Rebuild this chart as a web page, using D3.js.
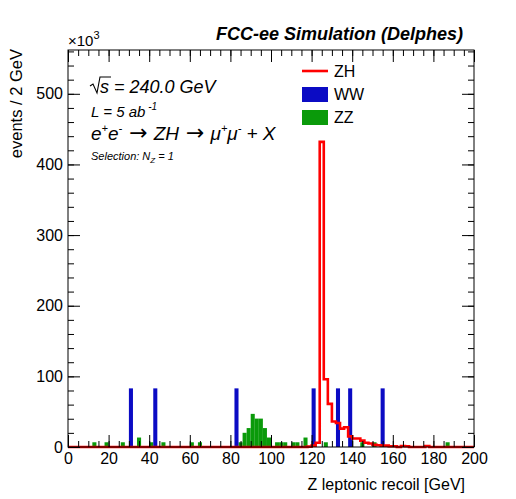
<!DOCTYPE html>
<html><head><meta charset="utf-8">
<script src="https://cdn.jsdelivr.net/npm/d3@7"></script>
<style>
body{margin:0;background:#fff}
text{font-family:"Liberation Sans",Arial,Helvetica,sans-serif;fill:#000}
</style>
</head><body>
<svg id="c" width="516" height="499"></svg>
<script>
// ---------- data (values in units of 10^3 events / 2 GeV) ----------
const binWidth = 2;
const xDomain = [0, 200];
const yDomain = [0, 562];
const xMajorTicks = [0, 20, 40, 60, 80, 100, 120, 140, 160, 180, 200];
const yMajorTicks = [0, 100, 200, 300, 400, 500];

// ZZ background (green), bin low edges and contents
const zzBins   = [12, 18, 26, 34, 40, 46, 60, 64, 84, 86, 88, 90, 92, 94, 96, 98, 102, 104, 106, 110, 112, 116, 126, 144, 150, 186];
const zzValues = [6.7, 6.7, 6.7, 13.4, 6.7, 6.7, 6.7, 6.7, 6.7, 20.1, 26.8, 46.9, 40.2, 40.2, 26.8, 13.4, 6.7, 6.7, 6.7, 6.7, 6.7, 13.4, 6.7, 6.7, 6.7, 6.7];

// WW background (blue)
const wwBins   = [30, 42, 82, 120, 132, 138, 154];
const wwValues = [83, 83, 83, 83, 83, 83, 83];

// ZH signal (red line)
const zhBins   = [118, 120, 122, 124, 126, 128, 130, 132, 134, 136, 138, 140, 142, 144, 146, 148, 150, 152, 154, 156, 158, 160, 164, 166, 176];
const zhValues = [0.5, 2, 6, 432, 96, 61, 36, 34, 26, 28, 15, 12, 12, 9, 6, 5, 3, 2.5, 2, 2, 1, 1, 1.5, 1, 1.5];

// ---------- drawing ----------
const svg = d3.select("#c");
const L = 68, R = 474, T = 50, B = 447;
const x = d3.scaleLinear().domain(xDomain).range([L, R]);
const y = d3.scaleLinear().domain(yDomain).range([B, T]);

const green = "#0a9a0a", blue = "#0b0bc4", red = "#ff0000";

// green ZZ bars
svg.append("g").selectAll("rect").data(zzBins.map((b,i)=>({lo:b, v:zzValues[i]})))
  .join("rect")
  .attr("x", d => x(d.lo)).attr("width", d => x(d.lo+binWidth)-x(d.lo))
  .attr("y", d => y(d.v)).attr("height", d => y(0)-y(d.v))
  .attr("fill", green);

// blue WW bars
svg.append("g").selectAll("rect").data(wwBins.map((b,i)=>({lo:b, v:wwValues[i]})))
  .join("rect")
  .attr("x", d => x(d.lo)).attr("width", d => x(d.lo+binWidth)-x(d.lo))
  .attr("y", d => y(d.v)).attr("height", d => y(0)-y(d.v))
  .attr("fill", blue);

// red ZH step outline
const nBins = (xDomain[1]-xDomain[0])/binWidth;
const zhFull = d3.range(nBins).map(i => {
  const lo = xDomain[0] + i*binWidth;
  const k = zhBins.indexOf(lo);
  return {lo, v: k >= 0 ? zhValues[k] : 0};
});
const pts = zhFull.map(d => [d.lo, d.v]).concat([[xDomain[1], zhFull[zhFull.length-1].v]]);
svg.append("path")
  .attr("d", d3.line().x(d => x(d[0])).y(d => y(d[1])).curve(d3.curveStepAfter)(pts))
  .attr("fill", "none").attr("stroke", red).attr("stroke-width", 2.6);

// axes (ticks inward, ROOT style)
const xMinor = d3.range(xDomain[0], xDomain[1]+0.1, 5);
const yMinor = d3.range(0, yDomain[1], 20);
function styleAxis(g){ g.select(".domain").remove(); g.selectAll("line").attr("stroke","#000"); }

svg.append("g").attr("transform",`translate(0,${B})`)
  .call(d3.axisBottom(x).tickValues(xMinor).tickSize(-6).tickFormat("")).call(styleAxis);
const xa = svg.append("g").attr("transform",`translate(0,${B})`)
  .call(d3.axisBottom(x).tickValues(xMajorTicks).tickSize(-12).tickPadding(6).tickFormat(d3.format("d")))
  .call(styleAxis);
xa.selectAll("text").attr("font-size",16).attr("font-family","Liberation Sans, Arial, sans-serif");
svg.append("g").attr("transform",`translate(0,${T})`)
  .call(d3.axisTop(x).tickValues(xMinor).tickSize(-6).tickFormat("")).call(styleAxis);
svg.append("g").attr("transform",`translate(0,${T})`)
  .call(d3.axisTop(x).tickValues(xMajorTicks).tickSize(-12).tickFormat("")).call(styleAxis);

svg.append("g").attr("transform",`translate(${L},0)`)
  .call(d3.axisLeft(y).tickValues(yMinor).tickSize(-6).tickFormat("")).call(styleAxis);
const ya = svg.append("g").attr("transform",`translate(${L},0)`)
  .call(d3.axisLeft(y).tickValues(yMajorTicks).tickSize(-12).tickPadding(5).tickFormat(d3.format("d")))
  .call(styleAxis);
ya.selectAll("text").attr("font-size",16).attr("font-family","Liberation Sans, Arial, sans-serif");
svg.append("g").attr("transform",`translate(${R},0)`)
  .call(d3.axisRight(y).tickValues(yMinor).tickSize(-6).tickFormat("")).call(styleAxis);
svg.append("g").attr("transform",`translate(${R},0)`)
  .call(d3.axisRight(y).tickValues(yMajorTicks).tickSize(-12).tickFormat("")).call(styleAxis);

// frame
svg.append("rect").attr("x",L).attr("y",T).attr("width",R-L).attr("height",B-T)
  .attr("fill","none").attr("stroke","#000").attr("stroke-width",1);

// exponent
const ex = svg.append("text").attr("x",L).attr("y",46).attr("font-size",15);
ex.append("tspan").text("×10");
ex.append("tspan").attr("font-size",11).attr("dy",-7).text("3");

// titles
svg.append("text").attr("x",463).attr("y",40).attr("text-anchor","end")
  .attr("font-size",18).attr("font-weight","bold").attr("font-style","italic")
  .text("FCC-ee Simulation (Delphes)");
svg.append("text").attr("x",465).attr("y",490).attr("text-anchor","end")
  .attr("font-size",16).text("Z leptonic recoil [GeV]");
svg.append("text").attr("transform","translate(22,49) rotate(-90)").attr("text-anchor","end")
  .attr("font-size",16.5).text("events / 2 GeV");

// annotations
svg.append("path").attr("d","M90,86 L93,84 L97,93 L100,77 L111,77")
  .attr("fill","none").attr("stroke","#000").attr("stroke-width",1.1);
svg.append("text").attr("x",100).attr("y",93).attr("font-size",18).attr("font-style","italic")
  .text("s = 240.0 GeV");
const lt = svg.append("text").attr("x",91).attr("y",117).attr("font-size",15).attr("font-style","italic");
lt.append("tspan").text("L = 5 ab");
lt.append("tspan").attr("font-size",10).attr("dy",-7).text(" -1");
const pt = svg.append("text").attr("x",91).attr("y",140).attr("font-size",19).attr("font-style","italic");
pt.append("tspan").text("e");
pt.append("tspan").attr("font-size",11).attr("dy",-8).text("+");
pt.append("tspan").attr("dy",8).text("e");
pt.append("tspan").attr("font-size",11).attr("dy",-8).text("-");
pt.append("tspan").attr("dy",8).attr("dx",7).attr("font-family","DejaVu Sans").attr("font-style","normal").attr("font-size",22).text("\u2192");
pt.append("tspan").attr("dx",6).text("ZH");
pt.append("tspan").attr("dx",7).attr("font-family","DejaVu Sans").attr("font-style","normal").attr("font-size",22).text("\u2192");
pt.append("tspan").attr("dx",6).text("\u03bc");
pt.append("tspan").attr("font-size",11).attr("dy",-8).text("+");
pt.append("tspan").attr("dy",8).text("\u03bc");
pt.append("tspan").attr("font-size",11).attr("dy",-8).text("-");
pt.append("tspan").attr("dy",8).attr("dx",5).text("+ X");
const st = svg.append("text").attr("x",91).attr("y",160).attr("font-size",11).attr("font-style","italic");
st.append("tspan").text("Selection: N");
st.append("tspan").attr("font-size",8).attr("dy",3).text("Z");
st.append("tspan").attr("dy",-3).text(" = 1");

// legend
const legendNames = ["ZH", "WW", "ZZ"];
const legendColors = [red, blue, green];
const lg = svg.append("g");
legendNames.forEach((n, i) => {
  const cy = 71 + i*23;
  if (i === 0) lg.append("line").attr("x1",302).attr("x2",328).attr("y1",cy).attr("y2",cy)
      .attr("stroke",legendColors[i]).attr("stroke-width",2.6);
  else lg.append("rect").attr("x",302).attr("y",cy-7).attr("width",26).attr("height",15).attr("fill",legendColors[i]);
  lg.append("text").attr("x",334).attr("y",cy+5.5).attr("font-size",16).text(n);
});
</script>
</body></html>
